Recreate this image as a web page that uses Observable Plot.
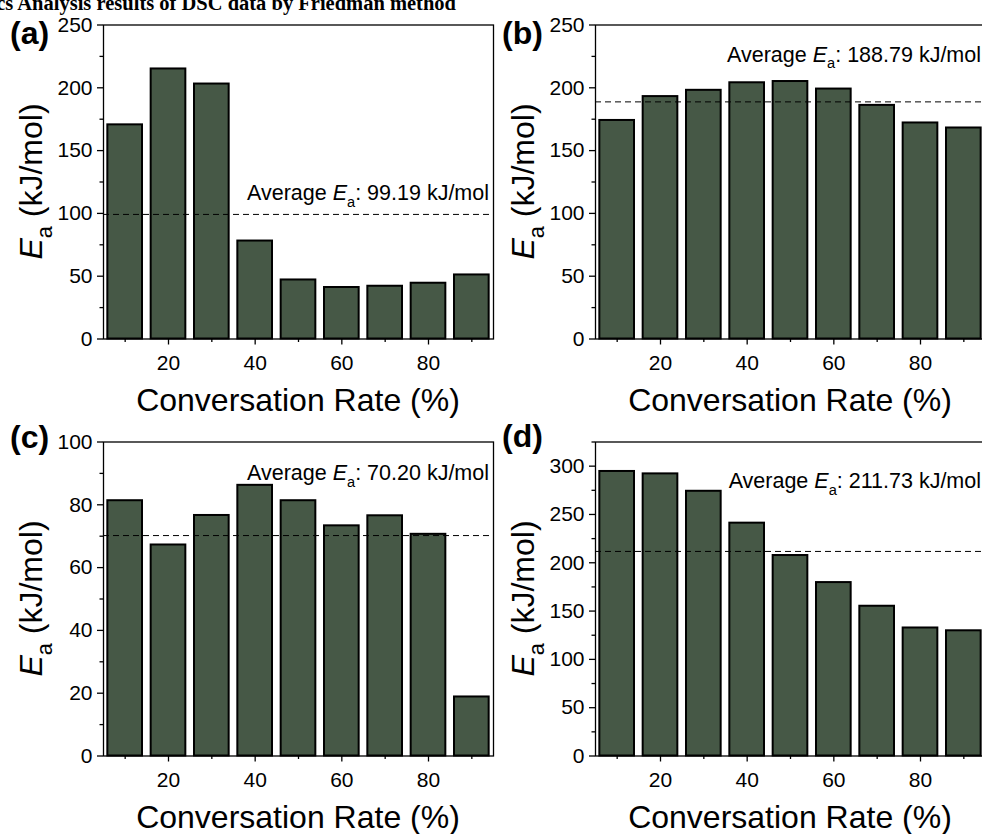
<!DOCTYPE html>
<html>
<head>
<meta charset="utf-8">
<script src="https://cdn.jsdelivr.net/npm/d3@7"></script>
<script src="https://cdn.jsdelivr.net/npm/@observablehq/plot@0.6"></script>
<style>
  body { margin: 0; background: #fff; }
  #fig { position: relative; width: 982px; height: 834px; overflow: hidden; background: #fff; }
  #fig svg { position: absolute; overflow: visible; }
</style>
</head>
<body>
<div id="fig"></div>
<script>
// Friedman-method activation energies (kJ/mol) at each conversion rate (%)
const rates = [10, 20, 30, 40, 50, 60, 70, 80, 90];
const eaA = [170.5, 215, 203, 78, 47, 41, 42, 44.4, 51];
const eaB = [174, 193, 198, 204, 205, 199, 186, 172, 168];
const eaC = [81.3, 67.2, 76.6, 86.2, 81.3, 73.3, 76.5, 70.6, 18.8];
const eaD = [294.5, 292, 274, 241, 207.5, 179.5, 155, 132.5, 129.6];
const averageEa = [99.19, 188.79, 70.20, 211.73];
const averageText = ["99.19", "188.79", "70.20", "211.73"];
const panelTags = ["(a)", "(b)", "(c)", "(d)"];

// Axis ticks
const xMajorTicks = [20, 40, 60, 80];
const xMinorTicks = [10, 30, 50, 70, 90];
const yMax = [250, 250, 100, 325];
const yMajorTicks = [
  [0, 50, 100, 150, 200, 250],
  [0, 50, 100, 150, 200, 250],
  [0, 20, 40, 60, 80, 100],
  [0, 50, 100, 150, 200, 250, 300]
];
const yMinorTicks = [
  [25, 75, 125, 175, 225],
  [25, 75, 125, 175, 225],
  [10, 30, 50, 70, 90],
  [25, 75, 125, 175, 225, 275, 325]
];
const xTitle = "Conversation Rate (%)";
const figTitle = "Kinetics Analysis results of DSC data by Friedman method";

const series = [eaA, eaB, eaC, eaD];

// Layout
const FONT = '"Liberation Sans", Arial, Helvetica, sans-serif';
const BAR = "#465846";
const ML = 103, MT = 24.5, MR = 12, MB = 80;
const frameW = 390, frameH = 314;
const colLeft = [103, 595];
const rowTop = [24.5, 441.7];
const tagBaseline = [44, 44, 30.8, 29.8];   // relative to each panel's svg
const noteRise = [13.5, 39.6, 54.6, 62.7];  // note baseline above the average line
const NOTE_FS = 21.5, TITLE_FS = 32, TICK_FS = "21px";

const fig = document.getElementById("fig");

function rich(textSel, parts, fs) {
  let shift = 0;
  for (const p of parts) {
    const ts = textSel.append("tspan").text(p.t);
    if (p.italic) ts.attr("font-style", "italic");
    if (p.sub) {
      ts.attr("font-size", fs * 0.68).attr("dy", fs * 0.3);
      shift = fs * 0.3;
    } else if (shift) {
      ts.attr("dy", -shift);
      shift = 0;
    }
  }
}

series.forEach((values, i) => {
  const rows = rates.map((r, k) => ({rate: r, ea: values[k]}));
  const plot = Plot.plot({
    width: ML + frameW + MR,
    height: MT + frameH + MB,
    marginLeft: ML, marginTop: MT, marginRight: MR, marginBottom: MB,
    x: {domain: [5, 95], label: null},
    y: {domain: [0, yMax[i]], label: null},
    style: {fontFamily: FONT, fontSize: TICK_FS, color: "#000", background: "transparent", overflow: "visible"},
    marks: [
      Plot.rect(rows, {x1: d => d.rate - 4, x2: d => d.rate + 4, y1: () => 0, y2: "ea",
        fill: BAR, stroke: "#000", strokeWidth: 2}),
      Plot.ruleY([averageEa[i]], {stroke: "#000", strokeWidth: 1, strokeDasharray: "6,4"}),
      Plot.frame({stroke: "#000", strokeWidth: 1.3}),
      Plot.axisX(xMajorTicks, {tickSize: 6, tickPadding: 10, strokeWidth: 1.3, label: null}),
      Plot.axisX(xMinorTicks, {tickSize: 3.5, tickFormat: () => "", strokeWidth: 1.3, label: null}),
      Plot.axisY(yMajorTicks[i], {tickSize: 6, tickPadding: 5, strokeWidth: 1.3, label: null}),
      Plot.axisY(yMinorTicks[i], {tickSize: 3.5, tickFormat: () => "", strokeWidth: 1.3, label: null})
    ]
  });
  const col = i % 2, row = Math.floor(i / 2);
  plot.style.left = (colLeft[col] - ML) + "px";
  plot.style.top = (rowTop[row] - MT) + "px";
  fig.appendChild(plot);

  const svg = d3.select(plot);
  const yScale = plot.scale("y");
  const avgY = yScale.apply(averageEa[i]);

  // average annotation
  const note = svg.append("text")
    .attr("x", ML + frameW - 4)
    .attr("y", avgY - noteRise[i])
    .attr("text-anchor", "end")
    .attr("font-family", FONT)
    .attr("font-size", NOTE_FS)
    .attr("fill", "#000");
  rich(note, [{t: "Average "}, {t: "E", italic: true}, {t: "a", sub: true},
              {t: ": " + averageText[i] + " kJ/mol"}], NOTE_FS);

  // y-axis title
  const cy = MT + frameH / 2;
  const yl = svg.append("text")
    .attr("transform", `translate(${ML - 61},${cy}) rotate(-90)`)
    .attr("text-anchor", "middle")
    .attr("font-family", FONT)
    .attr("font-size", TITLE_FS)
    .attr("fill", "#000");
  rich(yl, [{t: "E", italic: true}, {t: "a", sub: true}, {t: " (kJ/mol)"}], TITLE_FS);

  // x-axis title
  svg.append("text")
    .attr("x", ML + frameW / 2)
    .attr("y", MT + frameH + 72)
    .attr("text-anchor", "middle")
    .attr("font-family", FONT)
    .attr("font-size", TITLE_FS)
    .attr("fill", "#000")
    .text(xTitle);

  // panel tag
  svg.append("text")
    .attr("x", 10)
    .attr("y", tagBaseline[i])
    .attr("text-anchor", "start")
    .attr("font-family", FONT)
    .attr("font-size", 32)
    .attr("font-weight", "bold")
    .attr("fill", "#000")
    .text(panelTags[i]);
});

// figure title, running off the top edge
const head = d3.select(fig).append("svg")
  .attr("width", 982).attr("height", 30)
  .style("left", "0px").style("top", "0px");
head.append("text")
  .attr("x", 456).attr("y", 10)
  .attr("text-anchor", "end")
  .attr("font-family", '"Liberation Serif", "Times New Roman", serif')
  .attr("font-weight", "bold")
  .attr("font-size", 20.5)
  .attr("fill", "#000")
  .text(figTitle);
</script>
</body>
</html>
